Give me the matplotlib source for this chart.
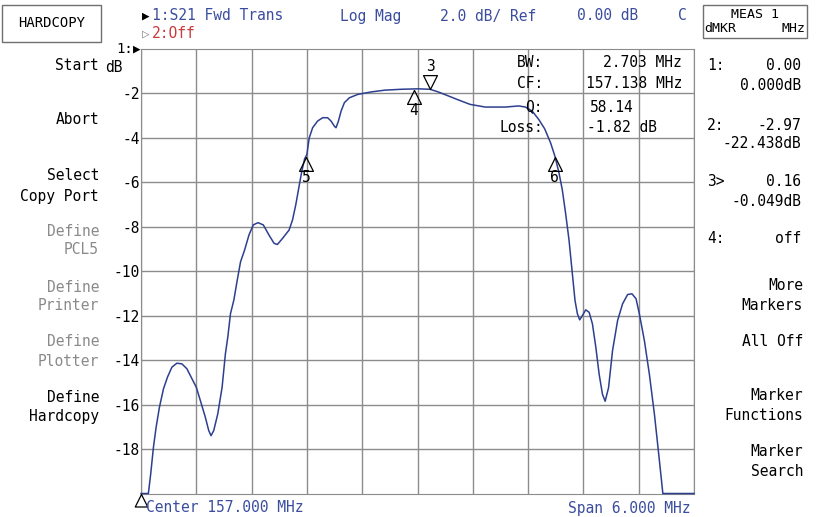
import matplotlib

matplotlib.use("Agg")
import matplotlib.pyplot as plt
from matplotlib.patches import Rectangle

# S21 trace (MHz, dB)
freq_mhz = [154.000, 154.080, 154.105, 154.135, 154.164, 154.200, 154.244, 154.287,
            154.335, 154.389, 154.444, 154.498, 154.553, 154.600, 154.644, 154.698,
            154.735, 154.760, 154.789, 154.833, 154.880, 154.916, 154.942, 154.971,
            155.007, 155.044, 155.080, 155.124, 155.171, 155.218, 155.269, 155.327,
            155.389, 155.444, 155.480, 155.535, 155.607, 155.644, 155.680, 155.710,
            155.745, 155.775, 155.800, 155.825, 155.862, 155.916, 155.971, 156.025,
            156.062, 156.098, 156.116, 156.142, 156.171, 156.207, 156.262, 156.353,
            156.498, 156.644, 156.825, 157.007, 157.135, 157.225, 157.335, 157.444,
            157.571, 157.735, 157.953, 158.098, 158.171, 158.244, 158.316, 158.380,
            158.444, 158.491, 158.535, 158.571, 158.607, 158.644, 158.680, 158.709,
            158.735, 158.760, 158.789, 158.825, 158.862, 158.898, 158.935, 158.971,
            159.007, 159.036, 159.073, 159.116, 159.171, 159.225, 159.280, 159.327,
            159.371, 159.407, 159.462, 159.516, 159.571, 159.618, 159.662, 160.000]
s21_db = [-20.00, -20.00, -19.13, -17.92, -17.02, -16.12, -15.29, -14.77,
          -14.32, -14.14, -14.17, -14.39, -14.84, -15.22, -15.82, -16.57,
          -17.17, -17.40, -17.17, -16.42, -15.22, -13.71, -12.96, -11.91,
          -11.31, -10.41, -9.58, -9.05, -8.38, -7.92, -7.82, -7.92,
          -8.38, -8.75, -8.80, -8.53, -8.15, -7.70, -7.00, -6.30,
          -5.50, -4.95, -4.75, -4.01, -3.55, -3.25, -3.10, -3.10,
          -3.25, -3.48, -3.55, -3.25, -2.80, -2.42, -2.20, -2.05,
          -1.94, -1.86, -1.82, -1.80, -1.82, -1.94, -2.12, -2.30,
          -2.50, -2.62, -2.62, -2.57, -2.62, -2.80, -3.18, -3.60,
          -4.23, -4.83, -5.58, -6.34, -7.40, -8.60, -10.11, -11.32,
          -11.92, -12.19, -12.00, -11.74, -11.85, -12.37, -13.43, -14.64,
          -15.54, -15.85, -15.24, -13.58, -12.22, -11.47, -11.05, -11.02,
          -11.24, -11.92, -13.13, -14.64, -16.45, -18.26, -20.00, -20.00]

y_ticks = [-2, -4, -6, -8, -10, -12, -14, -16, -18]

# markers: label, freq, dB
markers_up = [("5", 155.79, -4.85), ("4", 156.96, -1.84), ("6", 158.49, -4.85)]
marker_down = ("3", 157.14, -1.81)
marker_start = (154.0, -20.0)

left_keys = [("Start", 65, "k"), ("Abort", 120, "k"), ("Select", 175, "k"),
             ("Copy Port", 196, "k"), ("Define", 232, "g"), ("PCL5", 250, "g"),
             ("Define", 287, "g"), ("Printer", 306, "g"), ("Define", 342, "g"),
             ("Plotter", 362, "g"), ("Define", 397, "k"), ("Hardcopy", 417, "k")]
right_keys = [("More", 286), ("Markers", 306), ("All Off", 341), ("Marker", 396),
              ("Functions", 416), ("Marker", 452), ("Search", 471)]
marker_readout = [("1:", "0.00", 65, "0.000dB", 86),
                  ("2:", "-2.97", 125, "-22.438dB", 143),
                  ("3>", "0.16", 182, "-0.049dB", 201),
                  ("4:", "off", 238, None, None)]

W, H = 818, 517
MONO = ["DejaVu Sans Mono", "DejaVu Sans"]
BLUE = "#3b4d9e"
TRACE = "#2d3f8e"
GRAY = "#8a8a8a"
GRID = "#8c8c8c"


def fx(px):
    return px / W


def fy(py):
    return 1 - py / H


fig = plt.figure(figsize=(W / 100, H / 100), dpi=100)


def text(px, py, s, color="black", ha="left", size=10.5):
    fig.text(fx(px), fy(py), s, ha=ha, va="center", color=color,
             fontsize=size, family=MONO)


left, right, top, bottom = 141, 694, 48.8, 493.5
ax = fig.add_axes([fx(left), fy(bottom), (right - left) / W, (bottom - top) / H])
ax.set_xlim(154, 160)
ax.set_ylim(-20, 0)
ax.set_xticks([154 + 0.6 * i for i in range(11)])
ax.set_yticks(y_ticks)
ax.set_yticklabels([str(t) for t in y_ticks], family=MONO, fontsize=10.5)
ax.tick_params(axis="x", length=0, labelbottom=False)
ax.tick_params(axis="y", length=0, pad=1)
ax.grid(True, color=GRID, lw=1)
for sp in ax.spines.values():
    sp.set_color(GRID)

ax.plot(freq_mhz, s21_db, color=TRACE, lw=1.1, clip_on=False, zorder=3)

up_tri = [(0, 0), (-0.5, -1), (0.5, -1), (0, 0)]
down_tri = [(0, 0), (-0.5, 1), (0.5, 1), (0, 0)]
for lab, f, db in markers_up:
    ax.plot(f, db, marker=up_tri, ms=20, mfc="none", mec="black", mew=0.9, zorder=4)
    ax.annotate(lab, (f, db), xytext=(0, -15), textcoords="offset points",
                ha="center", va="center", fontsize=10.5, family=MONO)
lab, f, db = marker_down
ax.plot(f, db, marker=down_tri, ms=20, mfc="none", mec="black", mew=0.9, zorder=4)
ax.annotate(lab, (f, db), xytext=(0, 16), textcoords="offset points",
            ha="center", va="center", fontsize=10.5, family=MONO)
ax.plot(*marker_start, marker=up_tri, ms=18, mfc="none", mec="black", mew=0.9,
        clip_on=False, zorder=4)

# filter readout inside the graticule
text(543, 63, "BW:", ha="right")
text(682, 63, "2.703 MHz", ha="right")
text(543, 83, "CF:", ha="right")
text(682, 83, "157.138 MHz", ha="right")
text(543, 107, "Q:", ha="right")
text(590, 107, "58.14")
text(543, 128, "Loss:", ha="right")
text(587, 128, "-1.82 dB")

# header
fig.patches.append(Rectangle((fx(2), fy(42)), 99 / W, 37 / H, transform=fig.transFigure,
                             fill=False, ec="#707070", lw=1))
text(52, 23, "HARDCOPY", ha="center", size=10)
fig.patches.append(Rectangle((fx(703), fy(38)), 104 / W, 33 / H, transform=fig.transFigure,
                             fill=False, ec="#707070", lw=1))
text(755, 14, "MEAS 1", ha="center", size=9.5)
text(704, 28, "dMKR", size=9.5)
text(806, 28, "MHz", ha="right", size=9.5)

text(142, 16, "▶", size=9)
text(152, 16, "1:S21 Fwd Trans", color=BLUE)
text(340, 16, "Log Mag", color=BLUE)
text(440, 16, "2.0 dB/ Ref", color=BLUE)
text(577, 16, "0.00 dB", color=BLUE)
text(678, 16, "C", color=BLUE)
text(142, 34, "▷", color=GRAY, size=9)
text(152, 34, "2:Off", color="#cc3b3b")
text(133, 49, "1:", ha="right", size=10)
text(133, 49, "▶", size=9)
text(105, 68, "dB")

for s, py, c in left_keys:
    text(99, py, s, color="black" if c == "k" else GRAY, ha="right")
for s, py in right_keys:
    text(803, py, s, ha="right")
for num, val, py, sub, py2 in marker_readout:
    text(707, py, num)
    text(801, py, val, ha="right")
    if sub:
        text(801, py2, sub, ha="right")

text(146, 508, "Center 157.000 MHz", color=BLUE)
text(690, 508, "Span 6.000 MHz", color=BLUE, ha="right")

fig.savefig("out.png", dpi=100)
